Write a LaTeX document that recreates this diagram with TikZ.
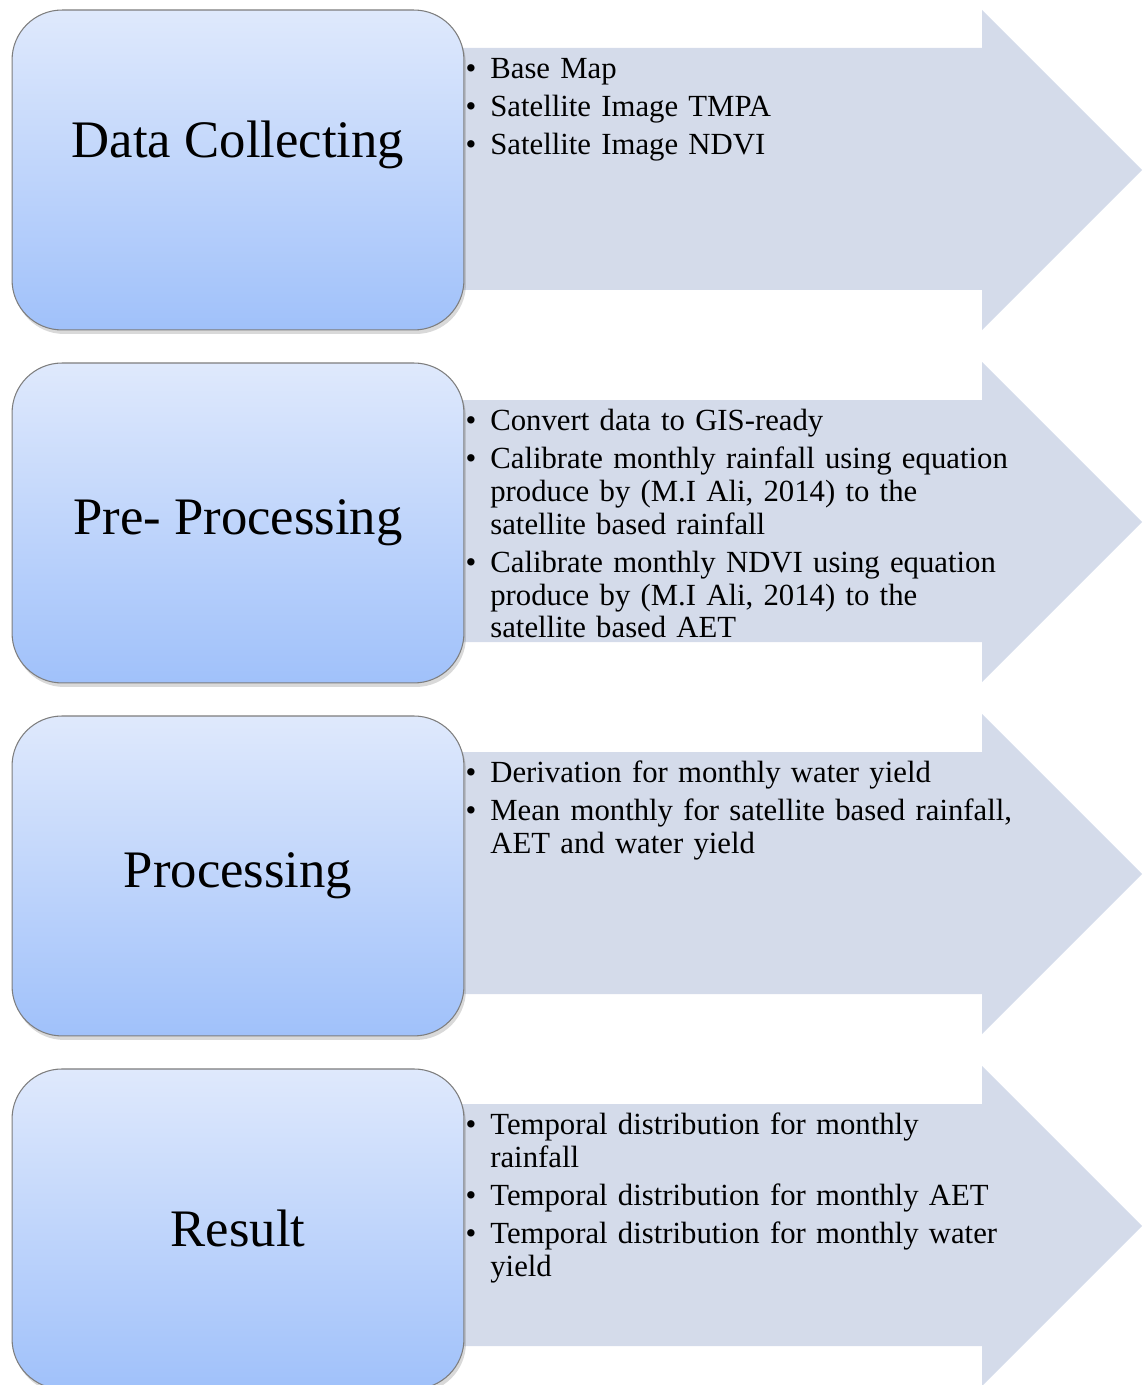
\documentclass[tikz,border=0pt]{standalone}
\usepackage{fontspec}
\setmainfont{Liberation Serif}
\usepackage{enumitem}
\usetikzlibrary{positioning,shadows}
\definecolor{boxtop}{RGB}{223,233,252}
\definecolor{boxbottom}{RGB}{160,193,250}
\definecolor{arrowfill}{RGB}{212,219,234}
\definecolor{boxline}{RGB}{125,125,125}

\tikzset{
  stagebox/.style={rectangle, rounded corners=1cm, minimum width=9.04cm,
    minimum height=6.4cm, draw=boxline, line width=0.6pt,
    top color=boxtop, bottom color=boxbottom,
    drop shadow={opacity=0.3, shadow xshift=0.04cm, shadow yshift=-0.08cm}},
  stagelabel/.style={font=\fontsize{30}{34}\selectfont},
  itemtext/.style={anchor=north west, inner sep=0pt, text width=13cm,
    align=left, font=\fontsize{17.5}{18.7}\selectfont},
}
% big chevron arrow of one row, #1 = top of the row (px)
\newcommand{\stagearrow}[1]{%
  \fill[arrowfill] (440,#1+38) -- (982,#1+38) -- (982,#1) -- (1142,#1+160)
    -- (982,#1+320) -- (982,#1+280) -- (440,#1+280) -- cycle;}
\newcommand{\stageitems}[1]{%
  \begin{itemize}[nosep, itemsep=3pt, leftmargin=0.5cm, labelsep=0.28cm]#1\end{itemize}}

\begin{document}
\begin{tikzpicture}[x=0.02cm, y=-0.02cm]
  % page frame, 1142 x 1385 px
  \useasboundingbox (0,0) rectangle (1142,1385);
  % arrows behind the boxes
  \stagearrow{10}
  \stagearrow{362}
  \stagearrow{714}
  \stagearrow{1066}
  % stage boxes
  \node[stagebox] (collect) at (238,170) {};
  \node[stagebox, below=0.64cm of collect] (preproc) {};
  \node[stagebox, below=0.64cm of preproc] (process) {};
  \node[stagebox, below=0.64cm of process] (result) {};
  \node[stagelabel] (lblcollect) at ([yshift=0.5cm]collect.center) {Data Collecting};
  \node[stagelabel] (lblpreproc) at (preproc.center) {Pre- Processing};
  \node[stagelabel] (lblprocess) at (process.center) {Processing};
  \node[stagelabel] (lblresult) at (result.center) {Result};
  % bullet texts in the arrows
  \node[itemtext] (itcollect) at (465,45) {\stageitems{
    \item Base Map
    \item Satellite Image TMPA
    \item Satellite Image NDVI}};
  \node[itemtext] (itpreproc) at (465,397) {\stageitems{
    \item Convert data to GIS-ready
    \item Calibrate monthly rainfall using equation\newline
      produce by (M.I Ali, 2014) to the\newline satellite based rainfall
    \item Calibrate monthly NDVI using equation\newline
      produce by (M.I Ali, 2014) to the\newline satellite based AET}};
  \node[itemtext] (itprocess) at (465,749) {\stageitems{
    \item Derivation for monthly water yield
    \item Mean monthly for satellite based rainfall,\newline
      AET and water yield}};
  \node[itemtext] (itresult) at (465,1101) {\stageitems{
    \item Temporal distribution for monthly\newline rainfall
    \item Temporal distribution for monthly AET
    \item Temporal distribution for monthly water\newline yield}};
\end{tikzpicture}
\end{document}
